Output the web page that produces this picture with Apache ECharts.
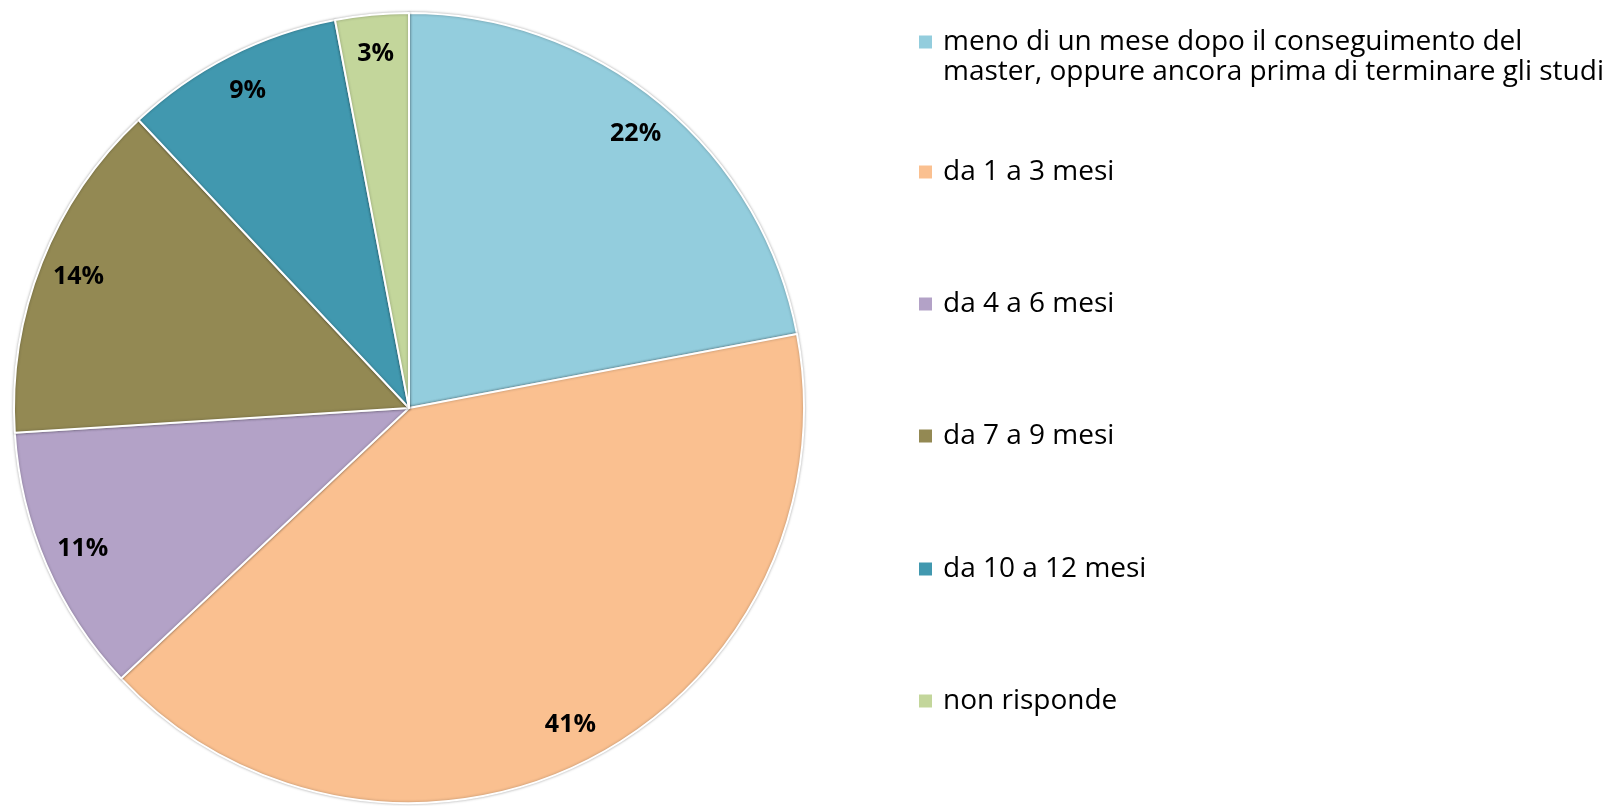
<!DOCTYPE html>
<html>
<head>
<meta charset="utf-8">
<script src="https://cdn.jsdelivr.net/npm/echarts@6/dist/echarts.min.js"></script>
<style>html,body{margin:0;padding:0;background:#fff}#c{width:1604px;height:806px}</style>
</head>
<body>
<div id="c"></div>
<script>
const categories = [
  'meno di un mese dopo il conseguimento del master, oppure ancora prima di terminare gli studi',
  'da 1 a 3 mesi',
  'da 4 a 6 mesi',
  'da 7 a 9 mesi',
  'da 10 a 12 mesi',
  'non risponde'
];
const values = [22, 41, 11, 14, 9, 3];
const colors = ['#93CDDD', '#FAC090', '#B3A2C7', '#938953', '#4198AF', '#C3D69B'];
const legendCenters = [42, 172, 304, 436, 569, 701];

const FONT = '"Open Sans", "DejaVu Sans", sans-serif';
const LH = 30;
const chart = echarts.init(document.getElementById('c'), null, {renderer: 'canvas'});

const data = categories.map((n, i) => ({name: n, value: values[i], itemStyle: {color: colors[i]}}));

const legends = categories.map((n, i) => {
  const first = i === 0;
  return {
    left: 917,
    top: first ? legendCenters[i] - 1.5 * LH : legendCenters[i] - LH / 2,
    padding: 0,
    orient: 'vertical',
    icon: 'rect',
    itemWidth: 15,
    itemHeight: 15,
    itemGap: 0,
    selectedMode: false,
    data: [n],
    formatter: (name) => {
      const lines = name.replace(' del master,', ' del\nmaster,').split('\n');
      const body = lines.map(l => '{t|' + l + '}').join('\n');
      return lines.length > 1 ? '{t| }\n' + body : body;
    },
    textStyle: {
      fontFamily: FONT, fontSize: 28, color: '#000', lineHeight: LH,
      rich: {t: {fontFamily: FONT, fontSize: 28, color: '#000', lineHeight: LH, padding: [0, 0, 0, 5]}}
    }
  };
});

chart.setOption({
  animation: false,
  legend: legends,
  series: [
    {
      type: 'pie',
      center: [409, 408],
      radius: 395,
      startAngle: 90,
      clockwise: true,
      data: data,
      label: {show: false},
      labelLine: {show: false},
      emphasis: {disabled: true},
      itemStyle: {borderColor: '#fff', borderWidth: 2, shadowBlur: 3, shadowColor: 'rgba(0,0,0,0.3)'}
    },
    {
      type: 'pie',
      center: [409, 408],
      radius: [310, 395],
      startAngle: 90,
      clockwise: true,
      silent: true,
      data: data.map(d => ({name: d.name, value: d.value, itemStyle: {color: 'rgba(0,0,0,0)'}})),
      itemStyle: {borderWidth: 0},
      emphasis: {disabled: true},
      labelLine: {show: false},
      label: {
        show: true,
        position: 'inside',
        formatter: (p) => p.value + '%',
        fontFamily: FONT,
        fontWeight: 'bold',
        fontSize: 25,
        color: '#000'
      }
    }
  ]
});
</script>
</body>
</html>
